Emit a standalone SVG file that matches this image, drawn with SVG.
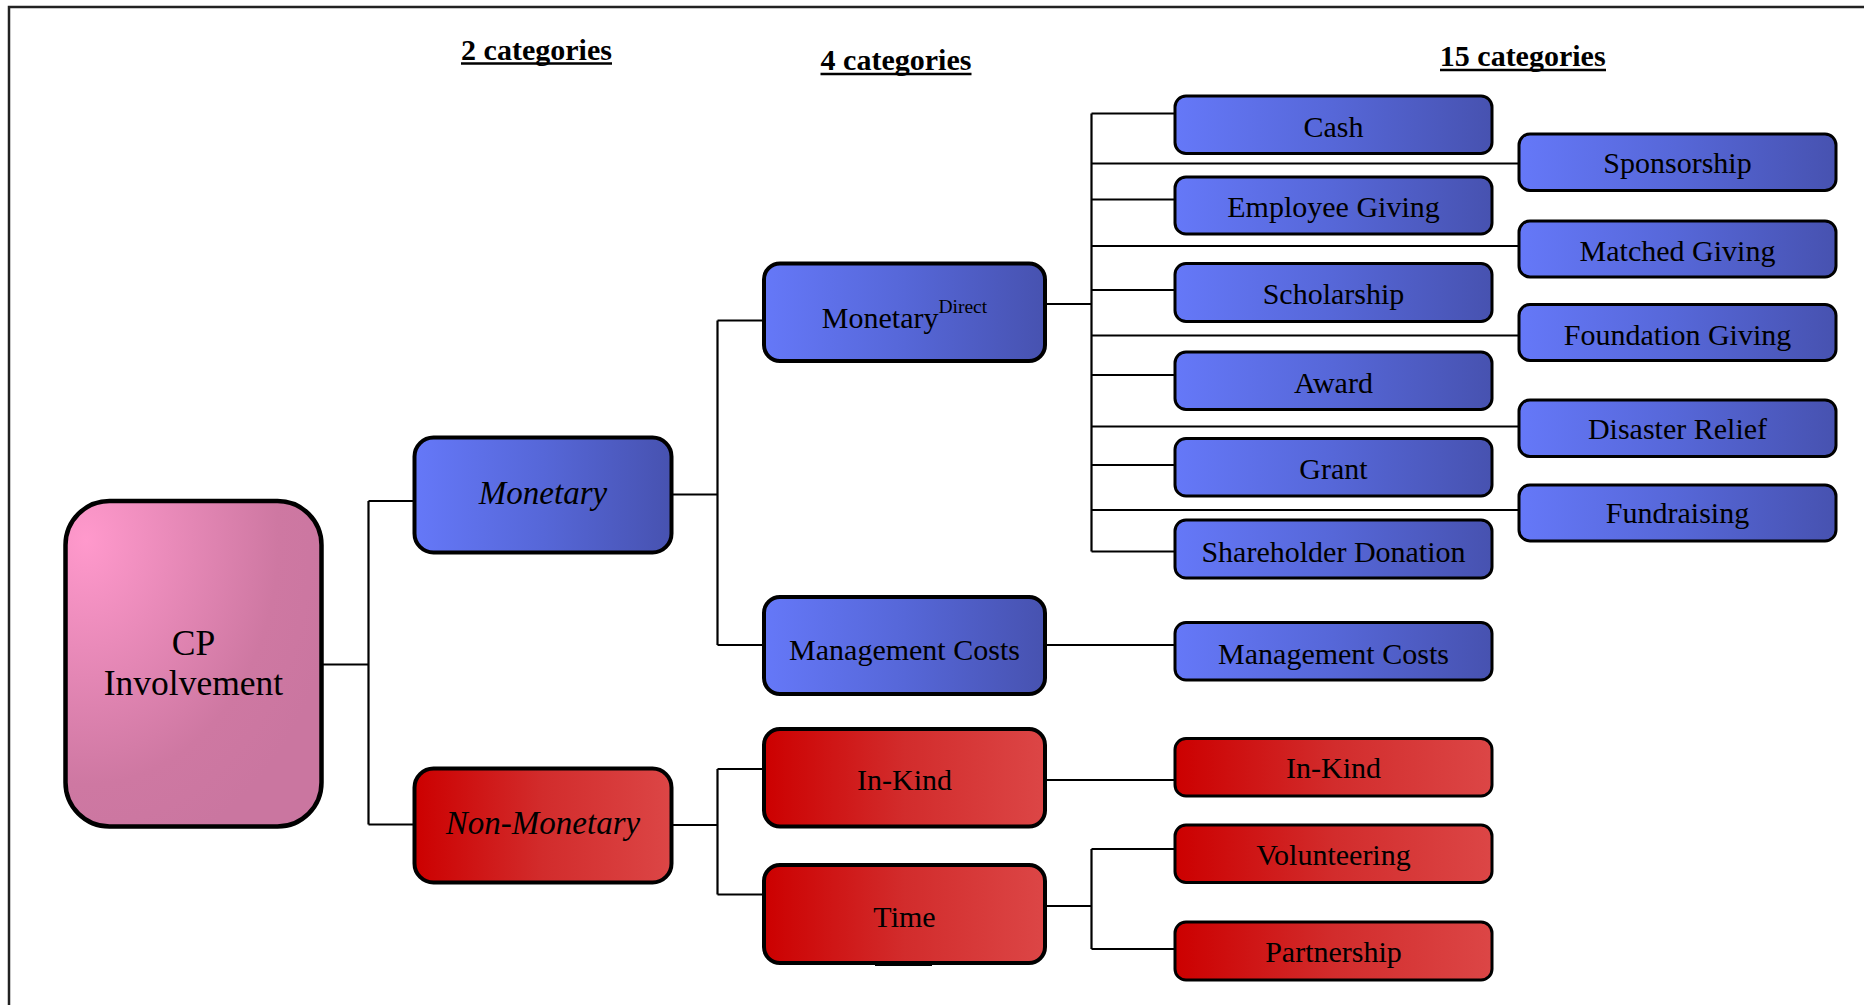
<svg xmlns="http://www.w3.org/2000/svg" width="1864" height="1005" viewBox="0 0 1864 1005">
  <defs>
    <linearGradient id="gBlue" x1="0" y1="0" x2="1" y2="0">
      <stop offset="0" stop-color="#6578F8"/>
      <stop offset="0.5" stop-color="#5667D8"/>
      <stop offset="1" stop-color="#4752B0"/>
    </linearGradient>
    <linearGradient id="gRed" x1="0" y1="0" x2="1" y2="0">
      <stop offset="0" stop-color="#CC0000"/>
      <stop offset="0.5" stop-color="#D22C2C"/>
      <stop offset="1" stop-color="#DC4646"/>
    </linearGradient>
    <radialGradient id="gPink" cx="0.08" cy="0.12" r="1.0" fx="0.08" fy="0.12">
      <stop offset="0" stop-color="#FF99CC"/>
      <stop offset="0.75" stop-color="#CE78A2"/>
      <stop offset="1" stop-color="#CA76A0"/>
    </radialGradient>
  </defs>
  <style>
    .frame { fill: none; stroke: #222; stroke-width: 2.5; }
    .hdr { font-family: "Liberation Serif", "Times New Roman", serif; font-weight: bold; font-size: 30px; fill: #000; text-anchor: middle; }
    .ul { stroke: #000; stroke-width: 2.5; }
    .t { font-family: "Liberation Serif", "Times New Roman", serif; font-size: 30px; fill: #000; text-anchor: middle; }
    .ti { font-family: "Liberation Serif", "Times New Roman", serif; font-size: 33px; font-style: italic; fill: #000; text-anchor: middle; }
    .tc { font-family: "Liberation Serif", "Times New Roman", serif; font-size: 35.5px; fill: #000; text-anchor: middle; }
    .blue { fill: url(#gBlue); }
    .red { fill: url(#gRed); }
    .l1 { stroke: #000; stroke-width: 4; }
    .l2 { stroke: #000; stroke-width: 4; }
    .l3 { stroke: #000; stroke-width: 3; }
    .conn { fill: none; stroke: #000; stroke-width: 2.2; }
  </style>

  <rect width="1864" height="1005" fill="#fff"/>
  <!-- page frame: only top and left edges fall inside the canvas -->
  <rect class="frame" x="9" y="7" width="1900" height="1050"/>

  <!-- column headers -->
  <g id="headers">
    <text class="hdr" x="536.5" y="60">2 categories</text>
    <line class="ul" x1="461" y1="63.5" x2="612" y2="63.5"/>
    <text class="hdr" x="896" y="70">4 categories</text>
    <line class="ul" x1="820.5" y1="74" x2="971.5" y2="74"/>
    <text class="hdr" x="1522.7" y="66">15 categories</text>
    <line class="ul" x1="1440" y1="70" x2="1606" y2="70"/>
  </g>

  <!-- connectors -->
  <g id="connectors" class="conn">
    <!-- root to level 1 -->
    <path d="M321 664.5 H368.5 M368.5 501 V824.5 M368.5 501 H414 M368.5 824.5 H414"/>
    <!-- Monetary to level 2 -->
    <path d="M671 494.5 H717.5 M717.5 320.5 V645 M717.5 320.5 H764 M717.5 645 H764"/>
    <!-- Non-Monetary to level 2 -->
    <path d="M671 825 H717.5 M717.5 769 V894.5 M717.5 769 H764 M717.5 894.5 H764"/>
    <!-- Monetary Direct to the 13 direct categories -->
    <path d="M1045 304 H1091.5 M1091.5 113.5 V551.5"/>
    <path d="M1091.5 113.5 H1175 M1091.5 199.5 H1175 M1091.5 290 H1175 M1091.5 375 H1175 M1091.5 465 H1175 M1091.5 551.5 H1175"/>
    <path d="M1091.5 163.5 H1519 M1091.5 246 H1519 M1091.5 335.5 H1519 M1091.5 426.5 H1519 M1091.5 510 H1519"/>
    <!-- level 2 to level 3, single children -->
    <path d="M1045 645 H1175 M1045 780 H1175"/>
    <!-- Time to its children -->
    <path d="M1045 906 H1091.5 M1091.5 849 V949 M1091.5 849 H1175 M1091.5 949 H1175"/>
  </g>

  <!-- root -->
  <g id="cp-involvement">
    <rect x="65.5" y="501" width="256" height="325.5" rx="44" ry="44" fill="url(#gPink)" stroke="#000" stroke-width="4.5"/>
    <text class="tc" x="193.5" y="655">CP</text>
    <text class="tc" x="193.5" y="695">Involvement</text>
  </g>

  <!-- level 1 -->
  <g id="monetary">
    <rect class="blue l1" x="414.5" y="437.5" width="257" height="115" rx="19"/>
    <text class="ti" x="543" y="504">Monetary</text>
  </g>
  <g id="non-monetary">
    <rect class="red l1" x="414.5" y="768.5" width="257" height="114" rx="19"/>
    <text class="ti" x="543" y="834">Non-Monetary</text>
  </g>

  <!-- level 2 -->
  <g id="monetary-direct">
    <rect class="blue l2" x="764" y="263.5" width="281" height="97.5" rx="16"/>
    <text class="t" x="904.5" y="327.5">Monetary<tspan font-size="19.5" dy="-14.5">Direct</tspan></text>
  </g>
  <g id="management-costs-2">
    <rect class="blue l2" x="764" y="597" width="281" height="97" rx="16"/>
    <text class="t" x="904.5" y="659.5">Management Costs</text>
  </g>
  <g id="in-kind-2">
    <rect class="red l2" x="764" y="729" width="281" height="97.5" rx="16"/>
    <text class="t" x="904.5" y="790">In-Kind</text>
  </g>
  <g id="time">
    <rect class="red l2" x="764" y="865" width="281" height="98" rx="16"/>
    <line x1="875" y1="964.5" x2="932" y2="964.5" stroke="#000" stroke-width="3"/>
    <text class="t" x="904.5" y="926.5">Time</text>
  </g>

  <!-- level 3, left column -->
  <g id="cash">
    <rect class="blue l3" x="1175" y="96" width="317" height="57.5" rx="11"/>
    <text class="t" x="1333.5" y="136.5">Cash</text>
  </g>
  <g id="employee-giving">
    <rect class="blue l3" x="1175" y="177" width="317" height="57" rx="11"/>
    <text class="t" x="1333.5" y="217">Employee Giving</text>
  </g>
  <g id="scholarship">
    <rect class="blue l3" x="1175" y="263.5" width="317" height="58" rx="11"/>
    <text class="t" x="1333.5" y="304">Scholarship</text>
  </g>
  <g id="award">
    <rect class="blue l3" x="1175" y="352" width="317" height="57.5" rx="11"/>
    <text class="t" x="1333.5" y="392.5">Award</text>
  </g>
  <g id="grant">
    <rect class="blue l3" x="1175" y="438.5" width="317" height="57.5" rx="11"/>
    <text class="t" x="1333.5" y="479">Grant</text>
  </g>
  <g id="shareholder-donation">
    <rect class="blue l3" x="1175" y="520" width="317" height="58" rx="11"/>
    <text class="t" x="1333.5" y="561.5">Shareholder Donation</text>
  </g>
  <g id="management-costs-3">
    <rect class="blue l3" x="1175" y="622.5" width="317" height="57.5" rx="11"/>
    <text class="t" x="1333.5" y="663.5">Management Costs</text>
  </g>
  <g id="in-kind-3">
    <rect class="red l3" x="1175" y="738.5" width="317" height="57.5" rx="11"/>
    <text class="t" x="1333.5" y="778">In-Kind</text>
  </g>
  <g id="volunteering">
    <rect class="red l3" x="1175" y="825" width="317" height="57.5" rx="11"/>
    <text class="t" x="1333.5" y="865">Volunteering</text>
  </g>
  <g id="partnership">
    <rect class="red l3" x="1175" y="922" width="317" height="58" rx="11"/>
    <text class="t" x="1333.5" y="961.5">Partnership</text>
  </g>

  <!-- level 3, right column -->
  <g id="sponsorship">
    <rect class="blue l3" x="1519" y="134" width="317" height="56.5" rx="11"/>
    <text class="t" x="1677.5" y="173">Sponsorship</text>
  </g>
  <g id="matched-giving">
    <rect class="blue l3" x="1519" y="221" width="317" height="56" rx="11"/>
    <text class="t" x="1677.5" y="260.5">Matched Giving</text>
  </g>
  <g id="foundation-giving">
    <rect class="blue l3" x="1519" y="304.5" width="317" height="56" rx="11"/>
    <text class="t" x="1677.5" y="344.5">Foundation Giving</text>
  </g>
  <g id="disaster-relief">
    <rect class="blue l3" x="1519" y="400" width="317" height="56.5" rx="11"/>
    <text class="t" x="1677.5" y="439">Disaster Relief</text>
  </g>
  <g id="fundraising">
    <rect class="blue l3" x="1519" y="485" width="317" height="56" rx="11"/>
    <text class="t" x="1677.5" y="523">Fundraising</text>
  </g>
</svg>
